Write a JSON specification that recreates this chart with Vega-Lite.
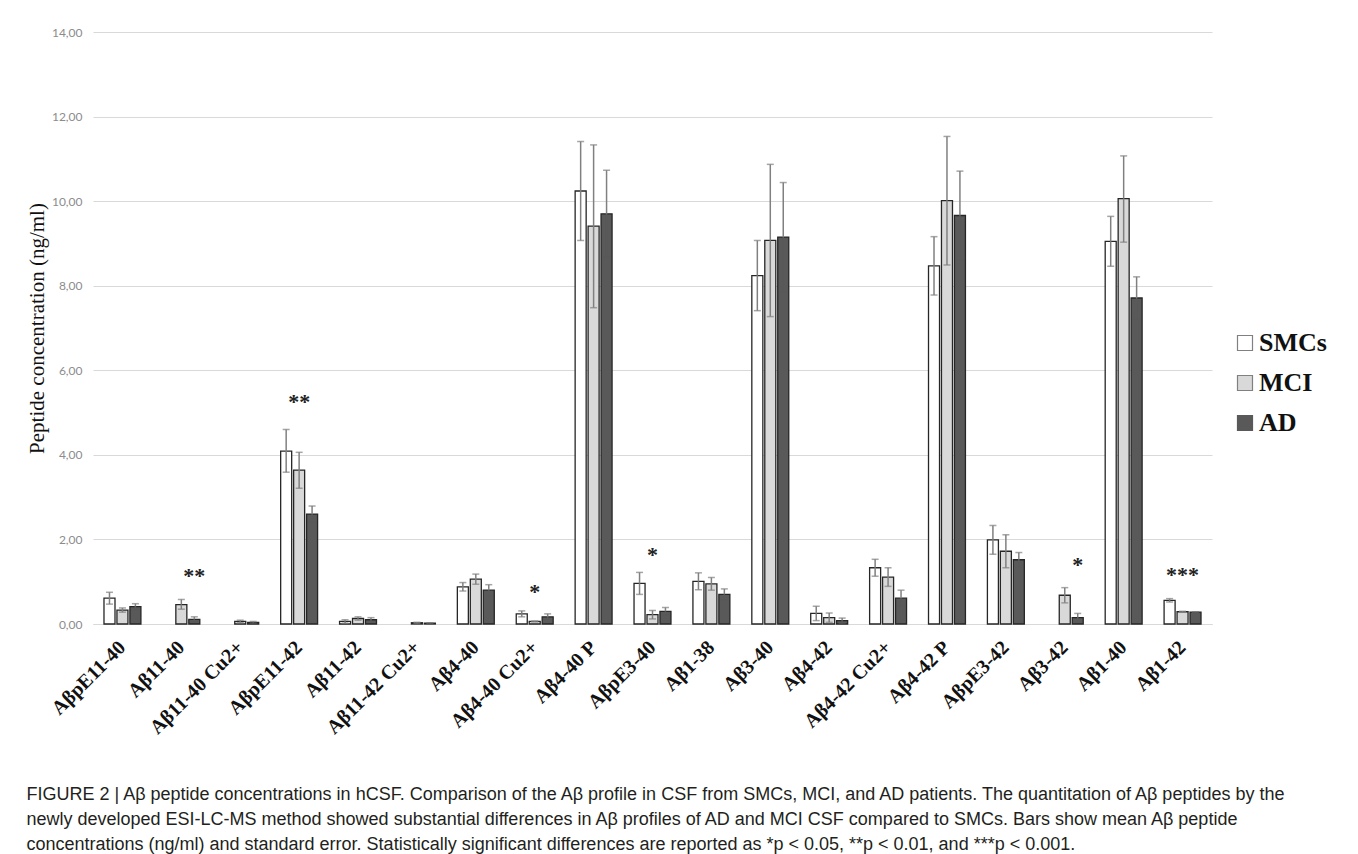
{
  "$schema": "https://vega.github.io/schema/vega-lite/v6.json",
  "width": 1119,
  "height": 592,
  "autosize": {"type": "none"},
  "padding": {"left": 93, "top": 32, "right": 146, "bottom": 230},
  "background": "white",
  "config": {
    "view": {"stroke": null},
    "locale": {"number": {"decimal": ",", "thousands": ".", "grouping": [3], "currency": ["", " €"]}},
    "axis": {"gridColor": "#d9d9d9", "domainColor": "#d9d9d9", "ticks": false}
  },
  "title": {
    "text": [
      "FIGURE 2 | Aβ peptide concentrations in hCSF. Comparison of the Aβ profile in CSF from SMCs, MCI, and AD patients. The quantitation of Aβ peptides by the",
      "newly developed ESI-LC-MS method showed substantial differences in Aβ profiles of AD and MCI CSF compared to SMCs. Bars show mean Aβ peptide",
      "concentrations (ng/ml) and standard error. Statistically significant differences are reported as *p < 0.05, **p < 0.01, and ***p < 0.001."
    ],
    "orient": "bottom",
    "anchor": "start",
    "frame": "bounds",
    "baseline": "top",
    "offset": 48,
    "font": "Liberation Sans",
    "fontSize": 18,
    "fontWeight": "normal",
    "color": "#231f20",
    "lineHeight": 25
  },
  "datasets": {
    "bars": [
      {"peptide": "AβpE11-40", "group": "SMCs", "mean": 0.61, "lo": 0.47, "hi": 0.75},
      {"peptide": "AβpE11-40", "group": "MCI", "mean": 0.33, "lo": 0.28, "hi": 0.38},
      {"peptide": "AβpE11-40", "group": "AD", "mean": 0.41, "lo": 0.34, "hi": 0.48},
      {"peptide": "Aβ11-40", "group": "MCI", "mean": 0.46, "lo": 0.35, "hi": 0.58},
      {"peptide": "Aβ11-40", "group": "AD", "mean": 0.11, "lo": 0.05, "hi": 0.17},
      {"peptide": "Aβ11-40 Cu2+", "group": "MCI", "mean": 0.06, "lo": 0.03, "hi": 0.09},
      {"peptide": "Aβ11-40 Cu2+", "group": "AD", "mean": 0.04, "lo": 0.02, "hi": 0.06},
      {"peptide": "AβpE11-42", "group": "SMCs", "mean": 4.09, "lo": 3.59, "hi": 4.6},
      {"peptide": "AβpE11-42", "group": "MCI", "mean": 3.64, "lo": 3.21, "hi": 4.06},
      {"peptide": "AβpE11-42", "group": "AD", "mean": 2.6, "lo": 2.41, "hi": 2.79},
      {"peptide": "Aβ11-42", "group": "SMCs", "mean": 0.06, "lo": 0.02, "hi": 0.1},
      {"peptide": "Aβ11-42", "group": "MCI", "mean": 0.13, "lo": 0.09, "hi": 0.17},
      {"peptide": "Aβ11-42", "group": "AD", "mean": 0.1, "lo": 0.05, "hi": 0.15},
      {"peptide": "Aβ11-42 Cu2+", "group": "MCI", "mean": 0.03, "lo": 0.02, "hi": 0.04},
      {"peptide": "Aβ11-42 Cu2+", "group": "AD", "mean": 0.02, "lo": 0.01, "hi": 0.03},
      {"peptide": "Aβ4-40", "group": "SMCs", "mean": 0.88, "lo": 0.78, "hi": 0.98},
      {"peptide": "Aβ4-40", "group": "MCI", "mean": 1.06, "lo": 0.94, "hi": 1.18},
      {"peptide": "Aβ4-40", "group": "AD", "mean": 0.8, "lo": 0.67, "hi": 0.93},
      {"peptide": "Aβ4-40 Cu2+", "group": "SMCs", "mean": 0.24, "lo": 0.17, "hi": 0.31},
      {"peptide": "Aβ4-40 Cu2+", "group": "MCI", "mean": 0.06, "lo": 0.05, "hi": 0.07},
      {"peptide": "Aβ4-40 Cu2+", "group": "AD", "mean": 0.17, "lo": 0.1, "hi": 0.24},
      {"peptide": "Aβ4-40 P", "group": "SMCs", "mean": 10.24, "lo": 9.07, "hi": 11.41},
      {"peptide": "Aβ4-40 P", "group": "MCI", "mean": 9.41, "lo": 7.48, "hi": 11.33},
      {"peptide": "Aβ4-40 P", "group": "AD", "mean": 9.7, "lo": 8.67, "hi": 10.73},
      {"peptide": "AβpE3-40", "group": "SMCs", "mean": 0.96, "lo": 0.7, "hi": 1.22},
      {"peptide": "AβpE3-40", "group": "MCI", "mean": 0.22, "lo": 0.12, "hi": 0.32},
      {"peptide": "AβpE3-40", "group": "AD", "mean": 0.3, "lo": 0.21, "hi": 0.39},
      {"peptide": "Aβ1-38", "group": "SMCs", "mean": 1.01, "lo": 0.81, "hi": 1.21},
      {"peptide": "Aβ1-38", "group": "MCI", "mean": 0.95, "lo": 0.8, "hi": 1.1},
      {"peptide": "Aβ1-38", "group": "AD", "mean": 0.7, "lo": 0.57, "hi": 0.83},
      {"peptide": "Aβ3-40", "group": "SMCs", "mean": 8.24, "lo": 7.41, "hi": 9.07},
      {"peptide": "Aβ3-40", "group": "MCI", "mean": 9.07, "lo": 7.27, "hi": 10.87},
      {"peptide": "Aβ3-40", "group": "AD", "mean": 9.15, "lo": 7.86, "hi": 10.44},
      {"peptide": "Aβ4-42", "group": "SMCs", "mean": 0.25, "lo": 0.08, "hi": 0.42},
      {"peptide": "Aβ4-42", "group": "MCI", "mean": 0.15, "lo": 0.04, "hi": 0.26},
      {"peptide": "Aβ4-42", "group": "AD", "mean": 0.08, "lo": 0.02, "hi": 0.14},
      {"peptide": "Aβ4-42 Cu2+", "group": "SMCs", "mean": 1.33, "lo": 1.13, "hi": 1.53},
      {"peptide": "Aβ4-42 Cu2+", "group": "MCI", "mean": 1.11, "lo": 0.89, "hi": 1.33},
      {"peptide": "Aβ4-42 Cu2+", "group": "AD", "mean": 0.61, "lo": 0.42, "hi": 0.8},
      {"peptide": "Aβ4-42 P", "group": "SMCs", "mean": 8.47, "lo": 7.78, "hi": 9.16},
      {"peptide": "Aβ4-42 P", "group": "MCI", "mean": 10.01, "lo": 8.49, "hi": 11.53},
      {"peptide": "Aβ4-42 P", "group": "AD", "mean": 9.66, "lo": 8.61, "hi": 10.71},
      {"peptide": "AβpE3-42", "group": "SMCs", "mean": 1.99, "lo": 1.65, "hi": 2.33},
      {"peptide": "AβpE3-42", "group": "MCI", "mean": 1.72, "lo": 1.33, "hi": 2.11},
      {"peptide": "AβpE3-42", "group": "AD", "mean": 1.52, "lo": 1.35, "hi": 1.69},
      {"peptide": "Aβ3-42", "group": "MCI", "mean": 0.68, "lo": 0.5, "hi": 0.86},
      {"peptide": "Aβ3-42", "group": "AD", "mean": 0.15, "lo": 0.05, "hi": 0.25},
      {"peptide": "Aβ1-40", "group": "SMCs", "mean": 9.05, "lo": 8.46, "hi": 9.64},
      {"peptide": "Aβ1-40", "group": "MCI", "mean": 10.06, "lo": 9.03, "hi": 11.07},
      {"peptide": "Aβ1-40", "group": "AD", "mean": 7.71, "lo": 7.21, "hi": 8.21},
      {"peptide": "Aβ1-42", "group": "SMCs", "mean": 0.56, "lo": 0.52, "hi": 0.6},
      {"peptide": "Aβ1-42", "group": "MCI", "mean": 0.29, "lo": 0.28, "hi": 0.3},
      {"peptide": "Aβ1-42", "group": "AD", "mean": 0.28, "lo": 0.27, "hi": 0.29}
    ],
    "stars": [
      {"peptide": "Aβ11-40", "pos": "AD", "stars": "**", "yv": 1.13},
      {"peptide": "AβpE11-42", "pos": "MCI", "stars": "**", "yv": 5.26},
      {"peptide": "Aβ4-40 Cu2+", "pos": "MCI", "stars": "*", "yv": 0.75},
      {"peptide": "AβpE3-40", "pos": "MCI", "stars": "*", "yv": 1.64},
      {"peptide": "Aβ3-42", "pos": "AD", "stars": "*", "yv": 1.4},
      {"peptide": "Aβ1-42", "pos": "MCI", "stars": "***", "yv": 1.15}
    ]
  },
  "encoding": {
    "x": {
      "field": "peptide",
      "type": "nominal",
      "title": null,
      "sort": ["AβpE11-40", "Aβ11-40", "Aβ11-40 Cu2+", "AβpE11-42", "Aβ11-42", "Aβ11-42 Cu2+", "Aβ4-40", "Aβ4-40 Cu2+", "Aβ4-40 P", "AβpE3-40", "Aβ1-38", "Aβ3-40", "Aβ4-42", "Aβ4-42 Cu2+", "Aβ4-42 P", "AβpE3-42", "Aβ3-42", "Aβ1-40", "Aβ1-42"],
      "scale": {"paddingInner": 0.34, "paddingOuter": 0.17},
      "axis": {
        "labelAngle": -45,
        "labelAlign": "right",
        "labelBaseline": "middle",
        "labelPadding": 20,
        "labelFont": "Liberation Serif",
        "labelFontWeight": "bold",
        "labelFontSize": 20,
        "labelColor": "#111111",
        "labelLimit": 300,
        "grid": false,
        "domain": true
      }
    },
    "xOffset": {
      "field": "group",
      "type": "nominal",
      "scale": {"domain": ["SMCs", "MCI", "AD"], "paddingInner": 0.15, "paddingOuter": 0.075}
    }
  },
  "layer": [
    {
      "data": {"name": "bars"},
      "mark": {"type": "bar", "stroke": "#262626", "strokeWidth": 1.3},
      "encoding": {
        "y": {
          "field": "mean",
          "type": "quantitative",
          "title": "Peptide concentration  (ng/ml)",
          "scale": {"domain": [0, 14], "nice": false},
          "axis": {
            "values": [0, 2, 4, 6, 8, 10, 12, 14],
            "format": ".2f",
            "labelFont": "Lato",
            "labelFontSize": 12,
            "labelColor": "#8c8c8c",
            "labelPadding": 11,
            "domain": false,
            "titleFont": "Liberation Serif",
            "titleFontSize": 21,
            "titleFontWeight": "normal",
            "titleColor": "#111111",
            "titlePadding": 4
          }
        },
        "fill": {
          "field": "group",
          "type": "nominal",
          "scale": {"domain": ["SMCs", "MCI", "AD"], "range": ["#ffffff", "#d9d9d9", "#595959"]},
          "legend": {
            "title": null,
            "orient": "none",
            "legendX": 1139,
            "legendY": 298,
            "symbolType": "square",
            "symbolSize": 225,
            "symbolStrokeColor": "#333333",
            "symbolStrokeWidth": 1.2,
            "labelFont": "Liberation Serif",
            "labelFontWeight": "bold",
            "labelFontSize": 26,
            "labelColor": "#111111",
            "labelOffset": 1,
            "rowPadding": 14
          }
        }
      }
    },
    {
      "data": {"name": "bars"},
      "mark": {"type": "rule", "color": "#808080", "strokeWidth": 1.5},
      "encoding": {
        "y": {"field": "mean", "type": "quantitative", "title": "Peptide concentration  (ng/ml)"},
        "y2": {"field": "hi"}
      }
    },
    {
      "data": {"name": "bars"},
      "mark": {"type": "rule", "strokeWidth": 1.5},
      "encoding": {
        "y": {"field": "lo", "type": "quantitative", "title": "Peptide concentration  (ng/ml)"},
        "y2": {"field": "mean"},
        "color": {
          "field": "group",
          "type": "nominal",
          "scale": {"domain": ["SMCs", "MCI", "AD"], "range": ["#808080", "#808080", "#595959"]},
          "legend": null
        }
      }
    },
    {
      "data": {"name": "bars"},
      "mark": {"type": "tick", "size": 7, "thickness": 1.5, "color": "#808080"},
      "encoding": {
        "y": {"field": "hi", "type": "quantitative", "title": "Peptide concentration  (ng/ml)"}
      }
    },
    {
      "data": {"name": "bars"},
      "mark": {"type": "tick", "size": 7, "thickness": 1.5},
      "encoding": {
        "y": {"field": "lo", "type": "quantitative", "title": "Peptide concentration  (ng/ml)"},
        "color": {
          "field": "group",
          "type": "nominal",
          "scale": {"domain": ["SMCs", "MCI", "AD"], "range": ["#808080", "#808080", "#595959"]},
          "legend": null
        }
      }
    },
    {
      "data": {"name": "stars"},
      "mark": {"type": "text", "font": "Liberation Serif", "fontWeight": "bold", "fontSize": 22, "baseline": "middle", "color": "#222222"},
      "encoding": {
        "xOffset": {
          "field": "pos",
          "type": "nominal",
          "scale": {"domain": ["SMCs", "MCI", "AD"], "paddingInner": 0.15, "paddingOuter": 0.075}
        },
        "y": {"field": "yv", "type": "quantitative", "title": "Peptide concentration  (ng/ml)"},
        "text": {"field": "stars"}
      }
    }
  ]
}
